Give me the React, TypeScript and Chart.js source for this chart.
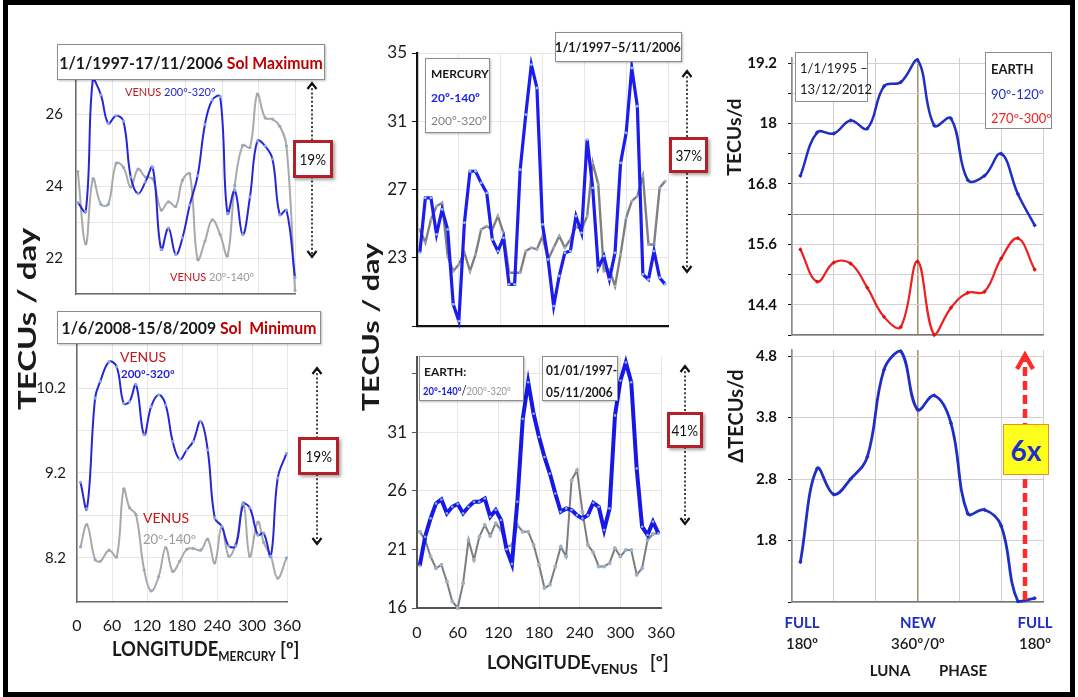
import React, { useEffect, useRef } from "react";
import { Chart, registerables } from "chart.js";

Chart.register(...registerables);

const FONT = "Lato, 'Open Sans', 'DejaVu Sans', sans-serif";

// ---------- Panel A : Sol Maximum (Mercury longitude) ----------
const solMaxLongitude = [3, 16, 28, 41, 53, 66, 78, 90, 102, 114, 126, 140, 152, 164, 175, 187, 200, 212, 224, 237, 249, 261, 274, 286, 298, 311, 323, 335, 346, 360];
const solMaxVenus200_320 = [23.54, 23.29, 27.0, 26.53, 25.74, 25.95, 25.8, 24.25, 23.79, 24.11, 24.52, 22.24, 22.83, 22.1, 22.56, 23.47, 24.29, 25.71, 26.39, 26.48, 23.24, 23.88, 22.65, 23.7, 25.25, 25.11, 24.75, 23.2, 23.33, 21.46];
const solMaxVenus20_140 = [24.4, 22.39, 24.2, 23.49, 23.49, 24.63, 24.52, 23.97, 24.47, 24.25, 24.2, 23.33, 23.56, 23.43, 24.16, 24.34, 21.96, 22.47, 23.06, 22.65, 22.06, 24.02, 25.13, 25.07, 26.55, 25.89, 25.86, 25.66, 25.11, 21.1];
const solMaxTicks = [21, 22, 23, 24, 25, 26, 27];
const solMaxTickLabels = ["", "22", "", "24", "", "26", ""];

// ---------- Panel B : Sol Minimum (Mercury longitude) ----------
const solMinLongitude = [6, 17, 31, 40, 55, 68, 80, 90, 101, 115, 127, 140, 152, 164, 176, 188, 199, 212, 224, 236, 248, 260, 272, 285, 296, 310, 320, 332, 344, 359];
const solMinVenus200_320 = [9.09, 8.78, 10.08, 10.28, 10.51, 10.45, 10.02, 10.04, 10.24, 9.65, 9.98, 10.12, 10.0, 9.57, 9.36, 9.47, 9.57, 9.81, 9.47, 8.67, 8.57, 8.34, 8.34, 8.83, 8.79, 8.47, 8.49, 8.22, 9.14, 9.43];
const solMinVenus20_140 = [8.33, 8.59, 8.18, 8.16, 8.29, 8.21, 9.01, 8.79, 8.71, 8.06, 7.81, 7.98, 8.32, 8.04, 8.16, 8.3, 8.31, 8.29, 8.42, 8.14, 8.57, 8.22, 8.36, 8.85, 8.22, 8.62, 8.38, 8.22, 7.96, 8.2];
const solMinTicks = [8.2, 8.7, 9.2, 9.7, 10.2];
const solMinTickLabels = ["8.2", "", "9.2", "", "10.2"];

const longitudeTicks = [0, 60, 120, 180, 240, 300, 360];
const longitudeTickLabels = ["0", "60", "120", "180", "240", "300", "360"];

// ---------- Panel C : Mercury (Venus longitude) ----------
const venusLongitude = [4, 12, 20, 28, 36, 44, 52, 60, 68, 76, 84, 92, 100, 108, 116, 124, 132, 140, 148, 156, 164, 172, 180, 188, 196, 204, 212, 220, 228, 236, 244, 252, 260, 268, 276, 284, 292, 300, 308, 316, 324, 332, 340, 348, 356];
const mercury20_140 = [23.29, 26.51, 26.51, 24.37, 25.83, 24.66, 20.27, 19.29, 25.05, 28.07, 28.07, 27.39, 26.8, 24.07, 23.39, 24.17, 21.44, 21.44, 28.17, 31.39, 34.32, 32.95, 24.95, 22.9, 20.17, 21.93, 23.29, 23.39, 25.44, 24.46, 29.93, 27.1, 22.41, 23.1, 21.73, 23.29, 28.56, 30.32, 34.12, 31.88, 22.02, 21.73, 23.39, 21.83, 21.44];
const mercury200_320 = [24.66, 23.88, 25.24, 26.02, 26.22, 23.1, 22.22, 22.61, 23.29, 22.22, 23.2, 24.66, 24.85, 24.66, 25.44, 24.46, 22.12, 22.12, 22.12, 23.39, 23.59, 23.49, 24.27, 22.9, 23.59, 24.27, 23.59, 24.07, 24.85, 24.66, 25.44, 28.56, 27.29, 22.22, 22.32, 21.34, 23.2, 25.34, 26.32, 26.61, 27.78, 23.78, 23.78, 27.1, 27.49];
const mercuryTicks = [19, 23, 27, 31, 35];
const mercuryTickLabels = ["", "23", "27", "31", "35"];

// ---------- Panel D : Earth (Venus longitude) ----------
const earth20_140 = [19.59, 22.08, 23.64, 24.91, 25.25, 24.07, 24.63, 24.86, 24.07, 24.63, 25.06, 25.06, 25.34, 23.78, 24.35, 23.5, 21.01, 19.76, 25.06, 32.13, 35.25, 32.56, 30.58, 28.88, 27.46, 25.76, 24.21, 24.49, 24.35, 23.92, 23.64, 23.92, 24.97, 24.63, 22.65, 24.49, 32.42, 35.39, 36.94, 35.25, 27.89, 22.93, 22.23, 23.36, 22.37];
const earth200_320 = [22.51, 21.8, 20.39, 19.39, 19.68, 18.26, 16.56, 16.0, 18.12, 21.8, 20.1, 22.08, 23.07, 22.14, 23.22, 22.65, 21.23, 21.38, 23.07, 22.51, 22.51, 21.38, 19.68, 17.7, 17.98, 19.54, 21.23, 20.39, 26.9, 27.75, 24.21, 21.38, 20.73, 19.54, 19.54, 19.82, 21.09, 20.39, 20.95, 20.95, 18.83, 19.39, 21.8, 22.31, 22.4];
const earthVenusTicks = [16, 21, 26, 31, 36];
const earthVenusTickLabels = ["16", "21", "26", "31", ""];

// ---------- Panels E/F : Luna phase ----------
const lunaPhaseBin = [0, 1, 2, 3, 4, 5, 6, 7, 8, 9, 10, 11, 12, 13, 14];
const lunaGrid = [-0.5, 2, 4.5, 7, 9.5, 12, 14.5];
const earth90_120 = [16.96, 17.82, 17.8, 18.06, 17.9, 18.74, 18.82, 19.26, 17.96, 18.1, 16.88, 16.96, 17.4, 16.6, 15.98];
const earth270_300 = [15.5, 14.86, 15.24, 15.22, 14.74, 14.16, 13.96, 15.26, 13.8, 14.34, 14.64, 14.66, 15.32, 15.72, 15.1];
const tecTicks = [13.8, 14.4, 15.0, 15.6, 16.2, 16.8, 17.4, 18.0, 18.6, 19.2];
const tecTickLabels = ["", "14.4", "", "15.6", "", "16.8", "", "18", "", "19.2"];
const deltaTec = [1.45, 2.97, 2.55, 2.8, 3.16, 4.58, 4.88, 3.93, 4.16, 3.71, 2.24, 2.3, 2.04, 0.81, 0.86];
const deltaTicks = [0.8, 1.8, 2.8, 3.8, 4.8];
const deltaTickLabels = ["", "1.8", "2.8", "3.8", "4.8"];

// ---------- helpers ----------
type M = { ml: number; mt: number; mr: number; mb: number };

function axis(o: any) {
  const grid: any = {
    color: o.gridColor || "#e6e6e6",
    lineWidth: o.gridWidth || 1,
    drawTicks: !!o.tickLength,
    tickLength: o.tickLength || 0,
  };
  if (o.tickColor) grid.tickColor = o.tickColor;
  return {
    type: "linear",
    min: o.min,
    max: o.max,
    afterBuildTicks: (s: any) => {
      s.ticks = o.ticks.map((v: number) => ({ value: v }));
    },
    ticks: {
      display: o.showLabels !== false,
      autoSkip: false,
      maxRotation: 0,
      font: o.font || { family: FONT, size: 15 },
      color: o.color || "#1a1a1a",
      padding: o.padding === undefined ? 4 : o.padding,
      callback: (v: number) => {
        const i = o.ticks.indexOf(v);
        return o.labels && i >= 0 ? o.labels[i] : String(v);
      },
    },
    grid,
    border: o.border || { display: false },
  };
}

function cfg(datasets: any[], x: any, y: any, m: M) {
  return {
    type: "line",
    data: { datasets },
    options: {
      animation: false,
      responsive: true,
      maintainAspectRatio: false,
      events: [],
      layout: { padding: { left: 0, top: m.mt, right: m.mr, bottom: 0 } },
      plugins: { legend: { display: false }, tooltip: { enabled: false } },
      scales: {
        x: { ...x, afterFit: (s: any) => { s.height = m.mb; } },
        y: { ...y, afterFit: (s: any) => { s.width = m.ml; } },
      },
    },
  };
}

const series = (xs: number[], ys: number[], style: any) => ({
  data: xs.map((x, i) => ({ x, y: ys[i] })),
  clip: 6,
  ...style,
});

function ChartBox(props: { px: number; py: number; pw: number; ph: number; m: M; make: (m: M) => any }) {
  const ref = useRef<HTMLCanvasElement>(null);
  useEffect(() => {
    const chart = new Chart(ref.current as HTMLCanvasElement, props.make(props.m) as any);
    return () => chart.destroy();
  }, []);
  const { px, py, pw, ph, m } = props;
  return (
    <div style={{ position: "absolute", left: px - m.ml, top: py - m.mt, width: pw + m.ml + m.mr, height: ph + m.mt + m.mb }}>
      <canvas ref={ref} />
    </div>
  );
}

function T(p: { x: number; y: number; size: number; weight?: any; color?: string; align?: string; sx?: number; children: any; style?: any }) {
  const center = p.align === "center";
  return (
    <div
      style={{
        position: "absolute",
        left: p.x,
        top: p.y,
        fontFamily: FONT,
        fontSize: p.size,
        fontWeight: p.weight || 400,
        color: p.color || "#1a1a1a",
        whiteSpace: "nowrap",
        lineHeight: 1,
        transform: `translate(${center ? "-50%" : "0"}, -50%) scaleX(${p.sx || 1})`,
        transformOrigin: center ? "50% 50%" : "0 50%",
        ...(p.style || {}),
      }}
    >
      {p.children}
    </div>
  );
}

function Box(p: { x: number; y: number; w: number; h: number; border?: string; bg?: string; shadow?: string; children?: any }) {
  return (
    <div
      style={{
        position: "absolute",
        left: p.x,
        top: p.y,
        width: p.w,
        height: p.h,
        boxSizing: "border-box",
        border: p.border || "1.5px solid #8c8c8c",
        background: p.bg || "#fff",
        boxShadow: p.shadow || "1px 1px 2px rgba(0,0,0,0.25)",
      }}
    >
      {p.children}
    </div>
  );
}

function Pct(p: { x: number; y: number; w: number; h: number; text: string }) {
  return (
    <div
      style={{
        position: "absolute",
        left: p.x,
        top: p.y,
        width: p.w,
        height: p.h,
        boxSizing: "border-box",
        border: "3px solid #b3202a",
        background: "#fff",
        boxShadow: "2px 2px 3px rgba(0,0,0,0.35)",
        display: "flex",
        alignItems: "center",
        justifyContent: "center",
        fontFamily: FONT,
        fontSize: 15,
        color: "#111",
      }}
    >
      <span style={{ transform: "scaleX(0.9)" }}>{p.text}</span>
    </div>
  );
}

function DottedArrow({ x, y1, y2 }: { x: number; y1: number; y2: number }) {
  return (
    <g stroke="#111" fill="none">
      <line x1={x} y1={y1 + 2} x2={x} y2={y2 - 2} strokeWidth={1.6} strokeDasharray="2 2.2" />
      <polyline points={`${x - 4.5},${y1 + 7} ${x},${y1 + 1} ${x + 4.5},${y1 + 7}`} strokeWidth={2.2} />
      <polyline points={`${x - 4.5},${y2 - 7} ${x},${y2 - 1} ${x + 4.5},${y2 - 7}`} strokeWidth={2.2} />
    </g>
  );
}

const BLUE_L = "#2626d9";
const GREY_L = "#a9a9a9";
const RED_T = "#c4161c";
const BLUE_R = "#1f2fc4";

const leftBlue = { borderColor: BLUE_L, borderWidth: 2, tension: 0.4, pointRadius: 1.6, pointBackgroundColor: "#8aa6e6", pointBorderWidth: 0 };
const leftGrey = { borderColor: GREY_L, borderWidth: 2, tension: 0.4, pointRadius: 1.6, pointBackgroundColor: "#94aac4", pointBorderWidth: 0 };

const lonX = (show: boolean, extra: any = {}) =>
  axis({
    min: 0,
    max: 360,
    ticks: longitudeTicks,
    labels: longitudeTickLabels,
    showLabels: show,
    font: { family: FONT, size: 16 },
    padding: 12,
    ...extra,
  });

const makeA = (m: M) =>
  cfg(
    [series(solMaxLongitude, solMaxVenus200_320, leftBlue), series(solMaxLongitude, solMaxVenus20_140, leftGrey)],
    lonX(false, { border: { display: true, color: "#6a6a6a", width: 1.5 } }),
    axis({ min: 21, max: 27, ticks: solMaxTicks, labels: solMaxTickLabels, padding: 13, border: { display: true, color: "#6a6a6a", width: 1.5 } }),
    m
  );

const makeB = (m: M) =>
  cfg(
    [series(solMinLongitude, solMinVenus200_320, leftBlue), series(solMinLongitude, solMinVenus20_140, leftGrey)],
    lonX(true, { padding: 14, border: { display: true, color: "#6a6a6a", width: 1.5 } }),
    axis({ min: 7.68, max: 10.73, ticks: solMinTicks, labels: solMinTickLabels, padding: 11, border: { display: true, color: "#6a6a6a", width: 1.5 } }),
    m
  );

const makeC = (m: M) =>
  cfg(
    [
      series(venusLongitude, mercury20_140, { borderColor: "#1c1cf0", borderWidth: 3.2, tension: 0, pointRadius: 1.4, pointBackgroundColor: "#8fc8ee", pointBorderWidth: 0 }),
      series(venusLongitude, mercury200_320, { borderColor: "#808080", borderWidth: 2.4, tension: 0, pointRadius: 1.4, pointBackgroundColor: "#9ab0c8", pointBorderWidth: 0 }),
    ],
    lonX(false, { border: { display: true, color: "#111", width: 2.2 } }),
    axis({
      min: 19,
      max: 35,
      ticks: mercuryTicks,
      labels: mercuryTickLabels,
      font: { family: FONT, size: 17 },
      padding: 5,
      tickLength: 5,
      tickColor: "#111",
      border: { display: true, color: "#111", width: 2.2 },
    }),
    m
  );

const makeD = (m: M) =>
  cfg(
    [
      series(venusLongitude, earth20_140, { borderColor: "#1717e8", borderWidth: 4, tension: 0, pointRadius: 1.3, pointBackgroundColor: "#7fb8e8", pointBorderWidth: 0 }),
      series(venusLongitude, earth200_320, { borderColor: "#7d7d7d", borderWidth: 2, tension: 0, pointRadius: 2, pointBackgroundColor: "#9bb2c8", pointBorderWidth: 0 }),
    ],
    lonX(true, { padding: 15, border: { display: true, color: "#555", width: 2 } }),
    axis({
      min: 16,
      max: 37.4,
      ticks: earthVenusTicks,
      labels: earthVenusTickLabels,
      font: { family: FONT, size: 17 },
      padding: 5,
      tickLength: 5,
      tickColor: "#555",
      border: { display: true, color: "#555", width: 2 },
    }),
    m
  );

const lunaX = () => ({
  ...axis({ min: -0.5, max: 14.5, ticks: lunaGrid, showLabels: false, border: { display: true, color: "#777", width: 1.5 } }),
  grid: {
    color: (c: any) => (c.tick && c.tick.value === 7 ? "#a39570" : "#cfcfcf"),
    lineWidth: (c: any) => (c.tick && c.tick.value === 7 ? 1.6 : 1),
    drawTicks: false,
  },
});

const rightFont = { family: FONT, size: 15, weight: "bold" };

const makeE = (m: M) =>
  cfg(
    [
      series(lunaPhaseBin, earth90_120, { borderColor: BLUE_R, borderWidth: 2.5, tension: 0.4, pointStyle: "rectRot", pointRadius: 2.2, pointBackgroundColor: BLUE_R, pointBorderWidth: 0 }),
      series(lunaPhaseBin, earth270_300, { borderColor: "#f01e1e", borderWidth: 2.2, tension: 0.4, pointStyle: "rectRot", pointRadius: 2.2, pointBackgroundColor: "#e01010", pointBorderWidth: 0 }),
    ],
    lunaX(),
    {
      ...axis({
        min: 13.8,
        max: 19.3,
        ticks: tecTicks,
        labels: tecTickLabels,
        font: rightFont,
        color: "#111",
        padding: 11,
        tickLength: 4,
        tickColor: "#111",
        border: { display: true, color: "#8a8a8a", width: 1.5 },
      }),
      grid: {
        color: (c: any) => (c.tick && Math.abs(c.tick.value - 16.2) < 0.01 ? "#8c8c8c" : "#d2d2d2"),
        drawTicks: true,
        tickLength: 4,
        tickColor: "#111",
      },
    },
    m
  );

const makeF = (m: M) =>
  cfg(
    [series(lunaPhaseBin, deltaTec, { borderColor: BLUE_R, borderWidth: 2.8, tension: 0.4, pointStyle: "rectRot", pointRadius: 2.2, pointBackgroundColor: BLUE_R, pointBorderWidth: 0 })],
    lunaX(),
    axis({
      min: 0.8,
      max: 4.9,
      ticks: deltaTicks,
      labels: deltaTickLabels,
      font: rightFont,
      color: "#111",
      padding: 11,
      tickLength: 4,
      tickColor: "#111",
      gridColor: "#cfcfcf",
      border: { display: true, color: "#8a8a8a", width: 1.5 },
    }),
    m
  );

export default function App() {
  const deg = "º";
  return (
    <div style={{ position: "absolute", left: 0, top: 0, width: 1078, height: 697, background: "#fff", overflow: "hidden", fontFamily: FONT }}>
      <ChartBox px={76} py={78} pw={219} ph={216} m={{ ml: 50, mt: 30, mr: 6, mb: 30 }} make={makeA} />
      <ChartBox px={77} py={343} pw={216} ph={259} m={{ ml: 50, mt: 30, mr: 22, mb: 40 }} make={makeB} />
      <ChartBox px={417} py={53} pw={251} ph={273} m={{ ml: 45, mt: 30, mr: 8, mb: 30 }} make={makeC} />
      <ChartBox px={417} py={357} pw={251} ph={251} m={{ ml: 45, mt: 30, mr: 22, mb: 40 }} make={makeD} />
      <ChartBox px={792} py={58} pw={251} ph={277} m={{ ml: 52, mt: 30, mr: 8, mb: 30 }} make={makeE} />
      <ChartBox px={792} py={350} pw={251} ph={252} m={{ ml: 52, mt: 30, mr: 8, mb: 30 }} make={makeF} />

      <svg width={1078} height={697} style={{ position: "absolute", left: 0, top: 0, pointerEvents: "none" }}>
        <DottedArrow x={312} y1={82} y2={258} />
        <DottedArrow x={317} y1={367} y2={545} />
        <DottedArrow x={687} y1={70} y2={273} />
        <DottedArrow x={685} y1={365} y2={525} />
        <g stroke="#ff2a2a" fill="none">
          <line x1={1025} y1={600} x2={1025} y2={360} strokeWidth={4.5} strokeDasharray="9 5" />
          <polyline points="1017,369 1025,355 1033,369" strokeWidth={4.5} />
        </g>
      </svg>

      {/* big rotated y titles */}
      <T x={27} y={319} size={33} weight={700} align="center" style={{ transform: "translate(-50%,-50%) rotate(-90deg) scale(1,0.72)" }}>TECUs / day</T>
      <T x={370} y={327} size={30.5} weight={700} align="center" style={{ transform: "translate(-50%,-50%) rotate(-90deg) scale(1,0.73)" }}>TECUs / day</T>
      <T x={734} y={137} size={19.5} weight={700} align="center" style={{ transform: "translate(-50%,-50%) rotate(-90deg)" }}>TECUs/d</T>
      <T x={735} y={416} size={20} weight={700} align="center" style={{ transform: "translate(-50%,-50%) rotate(-90deg)" }}>ΔTECUs/d</T>

      {/* Panel A */}
      <Box x={57} y={44} w={268} h={36} />
      <T x={191} y={62} size={17} weight={700} align="center" sx={0.93}>
        1/1/1997-17/11/2006 <span style={{ color: "#c00000" }}>Sol Maximum</span>
      </T>
      <T x={125} y={91} size={11}>
        <span style={{ color: RED_T }}>VENUS</span> <span style={{ color: BLUE_L }}>200{deg}-320{deg}</span>
      </T>
      <T x={170} y={276} size={11}>
        <span style={{ color: RED_T }}>VENUS</span> <span style={{ color: "#999" }}>20{deg}-140{deg}</span>
      </T>
      <Pct x={293} y={140} w={40} h={38} text="19%" />

      {/* Panel B */}
      <Box x={57} y={311} w={264} h={33} />
      <T x={189} y={327} size={17} weight={700} align="center" sx={0.93}>
        1/6/2008-15/8/2009 <span style={{ color: "#c00000" }}>Sol&nbsp; Minimum</span>
      </T>
      <T x={120} y={357} size={14} color={RED_T}>VENUS</T>
      <T x={121} y={374} size={11.5} weight={700} color={BLUE_L}>200{deg}-320{deg}</T>
      <T x={143} y={518} size={14} color={RED_T}>VENUS</T>
      <T x={143} y={539} size={13} color="#999">20{deg}-140{deg}</T>
      <Pct x={298} y={437} w={41} h={38} text="19%" />
      <T x={112} y={648} size={20} weight={700} sx={0.92}>
        LONGITUDE<span style={{ fontSize: 13, position: "relative", top: 5 }}>MERCURY</span>
      </T>
      <T x={280} y={648} size={19} weight={700}>[{deg}]</T>

      {/* Panel C */}
      <Box x={555} y={32} w={127} h={30} />
      <T x={618} y={47} size={14} weight={700} align="center" sx={0.9}>1/1/1997–5/11/2006</T>
      <Box x={425} y={58} w={65} h={75} />
      <T x={431} y={74} size={12} weight={700}>MERCURY</T>
      <T x={431} y={98} size={12} weight={700} color="#1c1cf0">20{deg}-140{deg}</T>
      <T x={431} y={121} size={12} color="#808080">200{deg}-320{deg}</T>
      <Pct x={669} y={137} w={39} h={36} text="37%" />

      {/* Panel D */}
      <Box x={419} y={356} w={105} h={45} />
      <T x={424} y={372} size={12} weight={700}>EARTH:</T>
      <T x={423} y={390} size={11} sx={0.86}>
        <span style={{ color: "#1717e8", fontWeight: 700 }}>20{deg}-140{deg}</span>
        <span style={{ fontSize: 13 }}>/</span>
        <span style={{ color: "#999" }}>200{deg}-320{deg}</span>
      </T>
      <Box x={542} y={356} w={76} h={45} />
      <T x={546} y={370} size={13} weight={700} sx={0.92}>01/01/1997-</T>
      <T x={546} y={392} size={13} weight={700} sx={0.92}>05/11/2006</T>
      <Pct x={667} y={412} w={36} h={36} text="41%" />
      <T x={487} y={662} size={18} weight={700}>
        LONGITUDE<span style={{ fontSize: 14, position: "relative", top: 5 }}>VENUS</span>
      </T>
      <T x={650} y={662} size={18} weight={700}>[{deg}]</T>

      {/* Panel E */}
      <Box x={795} y={52} w={73} h={50} shadow="none" />
      <T x={800} y={68} size={13}>1/1/1995 –</T>
      <T x={800} y={89} size={13}>13/12/2012</T>
      <Box x={985} y={52} w={67} h={77} shadow="none" />
      <T x={991} y={69} size={13} weight={700}>EARTH</T>
      <T x={991} y={94} size={13} color={BLUE_R}>90{deg}-120{deg}</T>
      <T x={991} y={118} size={13} color="#f01e1e">270{deg}-300{deg}</T>

      {/* Panel F */}
      <div
        style={{
          position: "absolute",
          left: 1003,
          top: 424,
          width: 46,
          height: 51,
          boxSizing: "border-box",
          background: "#ffff1e",
          border: "1.5px solid #f08c28",
          display: "flex",
          alignItems: "center",
          justifyContent: "center",
          fontFamily: FONT,
          fontWeight: 700,
          fontSize: 28,
          color: BLUE_R,
        }}
      >
        6x
      </div>
      <T x={802} y={622} size={15} weight={700} align="center" color={BLUE_R}>FULL</T>
      <T x={802} y={643} size={15} weight={600} align="center">180{deg}</T>
      <T x={918} y={622} size={15} weight={700} align="center" color={BLUE_R}>NEW</T>
      <T x={918} y={643} size={15} weight={600} align="center">360{deg}/0{deg}</T>
      <T x={1035} y={622} size={15} weight={700} align="center" color={BLUE_R}>FULL</T>
      <T x={1035} y={643} size={15} weight={600} align="center">180{deg}</T>
      <T x={890} y={670} size={15} weight={700} align="center">LUNA</T>
      <T x={963} y={670} size={15} weight={700} align="center">PHASE</T>

      {/* outer frame */}
      <div style={{ position: "absolute", left: 3, top: 0, width: 1072, height: 697, boxSizing: "border-box", border: "5px solid #000", pointerEvents: "none" }} />
    </div>
  );
}
